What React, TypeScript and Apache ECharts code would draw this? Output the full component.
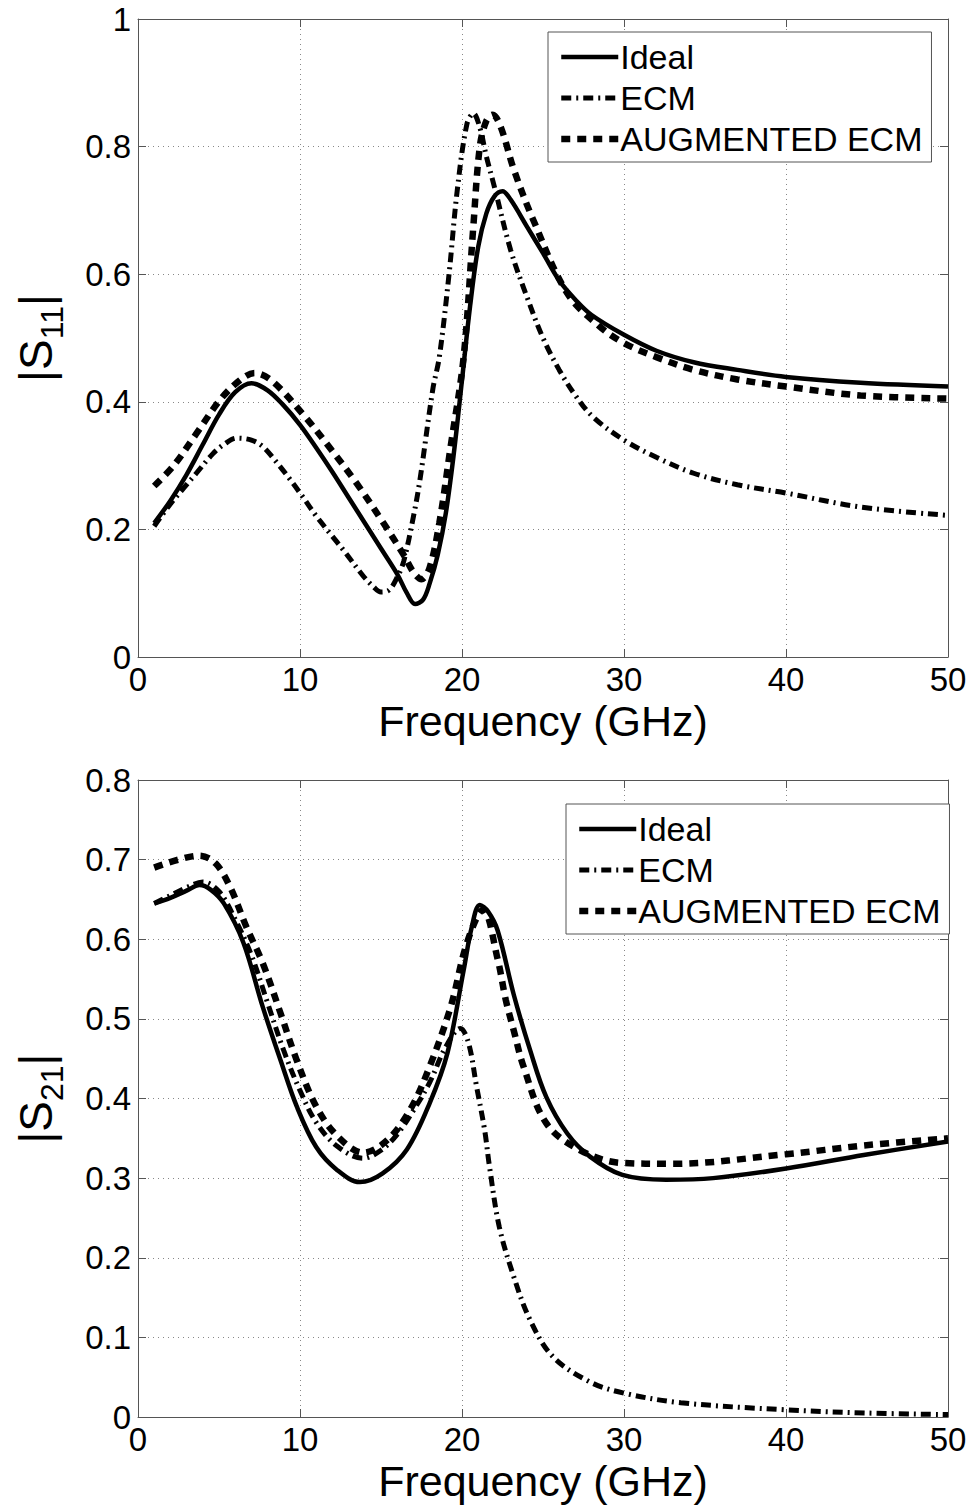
import React, { useEffect, useRef } from "react";
import * as echarts from "echarts";

// ---- Top plot |S11| ----
const s11IdealF = [1, 2, 3, 4, 5, 6, 7, 8, 9, 10, 11, 12, 13, 14, 15, 16, 16.6, 17.1, 17.6, 18, 18.5, 19, 19.5, 20, 20.5, 21, 21.5, 22, 22.5, 23, 24, 25, 26, 27, 28, 30, 32, 34.3, 37, 40, 44.6, 50];
const s11IdealV = [0.21, 0.245, 0.286, 0.333, 0.38, 0.415, 0.429, 0.418, 0.394, 0.364, 0.328, 0.29, 0.25, 0.21, 0.17, 0.13, 0.1, 0.083, 0.09, 0.115, 0.16, 0.225, 0.32, 0.434, 0.55, 0.643, 0.695, 0.722, 0.73, 0.717, 0.675, 0.633, 0.59, 0.56, 0.536, 0.505, 0.48, 0.462, 0.45, 0.439, 0.43, 0.424];

const s11EcmF = [1, 2, 3, 3.6, 4.6, 5.3, 6.1, 7, 7.7, 8.5, 9.4, 10.2, 11, 12, 12.7, 13.9, 14.5, 15, 15.5, 16, 16.4, 17, 17.4, 18.2, 18.6, 19.2, 19.7, 20.3, 20.7, 21.1, 21.5, 22, 23, 24, 25, 26, 27, 28.1, 30, 32, 34.3, 37, 40, 44.6, 50];
const s11EcmV = [0.205, 0.24, 0.27, 0.288, 0.318, 0.333, 0.343, 0.34, 0.33, 0.307, 0.278, 0.25, 0.221, 0.189, 0.167, 0.127, 0.111, 0.102, 0.105, 0.125, 0.15, 0.22, 0.277, 0.42, 0.47, 0.6, 0.73, 0.835, 0.852, 0.83, 0.785, 0.737, 0.638, 0.565, 0.5, 0.45, 0.41, 0.376, 0.34, 0.313, 0.288, 0.27, 0.257, 0.235, 0.222];

const s11AugF = [1, 2.2, 3.6, 5.1, 6.3, 7.2, 8.3, 10.2, 11.9, 13.5, 15.1, 16.4, 17, 17.5, 18, 18.6, 19.3, 20.1, 20.7, 21.1, 21.5, 21.9, 22.4, 23.2, 24.4, 26.5, 28.5, 30, 32, 34.3, 37, 40, 44.6, 50];
const s11AugV = [0.268, 0.3, 0.35, 0.404, 0.434, 0.445, 0.432, 0.38, 0.326, 0.272, 0.212, 0.16, 0.133, 0.122, 0.14, 0.21, 0.33, 0.47, 0.675, 0.8, 0.84, 0.85, 0.83, 0.764, 0.685, 0.57, 0.518, 0.492, 0.47, 0.45, 0.435, 0.424, 0.41, 0.405];

// ---- Bottom plot |S21| ----
const s21IdealF = [1, 2, 3, 3.8, 4.5, 5.3, 6.5, 7.7, 8.8, 9.8, 11, 12.3, 13.7, 15.1, 16.6, 18, 19.1, 20.1, 20.6, 21.1, 21.6, 22.2, 23.2, 24.2, 25.2, 26.5, 27.9, 29.9, 32.6, 35.5, 40, 44.8, 50];
const s21IdealV = [0.645, 0.652, 0.661, 0.668, 0.662, 0.645, 0.596, 0.515, 0.448, 0.39, 0.339, 0.31, 0.295, 0.306, 0.336, 0.394, 0.457, 0.561, 0.615, 0.643, 0.635, 0.611, 0.53, 0.461, 0.402, 0.356, 0.327, 0.304, 0.298, 0.3, 0.312, 0.329, 0.346];

const s21EcmF = [1, 2, 3, 4, 5, 6, 7, 8, 9, 10, 11, 12.3, 13.9, 15, 16, 17, 18, 19, 19.9, 20.4, 20.9, 21.4, 21.7, 22.3, 23.2, 24.2, 25.6, 27.9, 30, 33.5, 40, 45, 50];
const s21EcmV = [0.645, 0.655, 0.665, 0.672, 0.66, 0.625, 0.58, 0.52, 0.46, 0.41, 0.37, 0.34, 0.325, 0.335, 0.355, 0.385, 0.42, 0.465, 0.488, 0.47, 0.415, 0.36, 0.314, 0.239, 0.176, 0.122, 0.076, 0.044, 0.03, 0.018, 0.009, 0.005, 0.003];

const s21AugF = [1, 2.5, 3.8, 4.8, 5.7, 6.7, 7.7, 8.8, 9.8, 11, 12.3, 13.9, 15.4, 16.8, 18, 19.3, 20.3, 21.3, 22.2, 22.7, 23.2, 23.8, 25.2, 27.3, 29.9, 33, 40, 44.8, 50];
const s21AugV = [0.69, 0.7, 0.705, 0.695, 0.665, 0.615, 0.57, 0.507, 0.448, 0.39, 0.353, 0.332, 0.348, 0.386, 0.44, 0.515, 0.595, 0.637, 0.575, 0.524, 0.485, 0.44, 0.369, 0.335, 0.319, 0.318, 0.33, 0.341, 0.35];

const xTicks = [0, 10, 20, 30, 40, 50];
const seriesNames = ["Ideal", "ECM", "AUGMENTED ECM"];

const FONT = "'Liberation Sans', Arial, Helvetica, sans-serif";

const pairs = (f: number[], v: number[]) => f.map((x, i) => [x, v[i]]);

export default function App() {
  const ref = useRef<HTMLDivElement>(null);
  useEffect(() => {
    if (!ref.current) return;
    const chart = echarts.init(ref.current, null, { renderer: "svg" });
    const axisColor = "#555";
    const styles = [
      { type: "solid", width: 4.5 },
      { type: [10, 5, 2, 5], width: 5 },
      { type: [9, 7], width: 6.5 },
    ];
    const mkSeries = (name: string, data: number[][], idx: number, grid: number) => ({
      type: "line",
      name,
      data,
      xAxisIndex: grid * 2,
      yAxisIndex: grid * 2,
      symbol: "none",
      smooth: 0.35,
      lineStyle: { color: "#000", width: styles[idx].width, type: styles[idx].type, cap: "butt" },
      itemStyle: { color: "#000" },
      z: 5 - idx,
    });
    const xMain = (grid: number) => ({
      type: "value",
      gridIndex: grid,
      min: xTicks[0],
      max: xTicks[xTicks.length - 1],
      interval: 10,
      name: "Frequency (GHz)",
      nameLocation: "middle",
      nameGap: 42,
      nameTextStyle: { fontSize: 43, color: "#000", fontFamily: FONT },
      axisLine: { show: true, onZero: false, lineStyle: { color: axisColor, width: 1 } },
      axisTick: { show: true, inside: true, length: 8, lineStyle: { color: axisColor } },
      axisLabel: { fontSize: 33, color: "#000", fontFamily: FONT, margin: 6, showMinLabel: true, showMaxLabel: true },
      splitLine: { show: true, lineStyle: { color: "#888", type: [1, 4], width: 1 } },
    });
    const xTop = (grid: number) => ({
      type: "value",
      gridIndex: grid,
      position: "top",
      min: 0,
      max: 50,
      interval: 10,
      axisLine: { show: true, onZero: false, lineStyle: { color: axisColor, width: 1 } },
      axisTick: { show: true, inside: true, length: 8, lineStyle: { color: axisColor } },
      axisLabel: { show: false },
      splitLine: { show: false },
    });
    const yMain = (grid: number, max: number, interval: number, sub: string) => ({
      type: "value",
      gridIndex: grid,
      min: 0,
      max,
      interval,
      name: "|S{sub|" + sub + "}|",
      nameLocation: "middle",
      nameGap: 70,
      nameTextStyle: {
        fontSize: 46,
        color: "#000",
        fontFamily: FONT,
        lineHeight: 64,
        rich: {
          sub: { fontSize: 32, color: "#000", fontFamily: FONT, verticalAlign: "bottom", lineHeight: 34 },
        },
      },
      axisLine: { show: true, onZero: false, lineStyle: { color: axisColor, width: 1 } },
      axisTick: { show: true, inside: true, length: 8, lineStyle: { color: axisColor } },
      axisLabel: { fontSize: 33, color: "#000", fontFamily: FONT, margin: 7 },
      splitLine: { show: true, lineStyle: { color: "#888", type: [1, 4], width: 1 } },
    });
    const yRight = (grid: number, max: number, interval: number) => ({
      type: "value",
      gridIndex: grid,
      position: "right",
      min: 0,
      max,
      interval,
      axisLine: { show: true, onZero: false, lineStyle: { color: axisColor, width: 1 } },
      axisTick: { show: true, inside: true, length: 8, lineStyle: { color: axisColor } },
      axisLabel: { show: false },
      splitLine: { show: false },
    });
    const legend = (left: number, top: number) => ({
      orient: "vertical",
      left,
      top,
      data: seriesNames,
      itemWidth: 57,
      itemHeight: 14,
      itemGap: 5,
      padding: [7, 9, 5, 10],
      backgroundColor: "#fff",
      borderColor: "#555",
      borderWidth: 1,
      borderRadius: 0,
      selectedMode: false,
      itemStyle: { color: "rgba(0,0,0,0)", borderWidth: 0, opacity: 0 },
      lineStyle: { width: "inherit", color: "#000", type: "inherit", cap: "butt" },
      textStyle: { fontSize: 34, color: "#000", fontFamily: FONT, lineHeight: 36, padding: [0, 0, 0, -3] },
    });
    chart.setOption({
      animation: false,
      backgroundColor: "#fff",
      grid: [
        { left: 138, right: 26, top: 19, height: 638, outerBoundsMode: "none", containLabel: false },
        { left: 138, right: 26, top: 780, height: 637, outerBoundsMode: "none", containLabel: false },
      ],
      xAxis: [xMain(0), xTop(0), xMain(1), xTop(1)],
      yAxis: [yMain(0, 1, 0.2, "11"), yRight(0, 1, 0.2), yMain(1, 0.8, 0.1, "21"), yRight(1, 0.8, 0.1)],
      legend: [legend(548, 32), legend(566, 804)],
      series: [
        mkSeries("Ideal", pairs(s11IdealF, s11IdealV), 0, 0),
        mkSeries("ECM", pairs(s11EcmF, s11EcmV), 1, 0),
        mkSeries("AUGMENTED ECM", pairs(s11AugF, s11AugV), 2, 0),
        mkSeries("Ideal", pairs(s21IdealF, s21IdealV), 0, 1),
        mkSeries("ECM", pairs(s21EcmF, s21EcmV), 1, 1),
        mkSeries("AUGMENTED ECM", pairs(s21AugF, s21AugV), 2, 1),
      ],
    });
    return () => chart.dispose();
  }, []);
  return (
    <div
      ref={ref}
      style={{ position: "fixed", left: 0, top: 0, width: 974, height: 1507, background: "#fff" }}
    />
  );
}
